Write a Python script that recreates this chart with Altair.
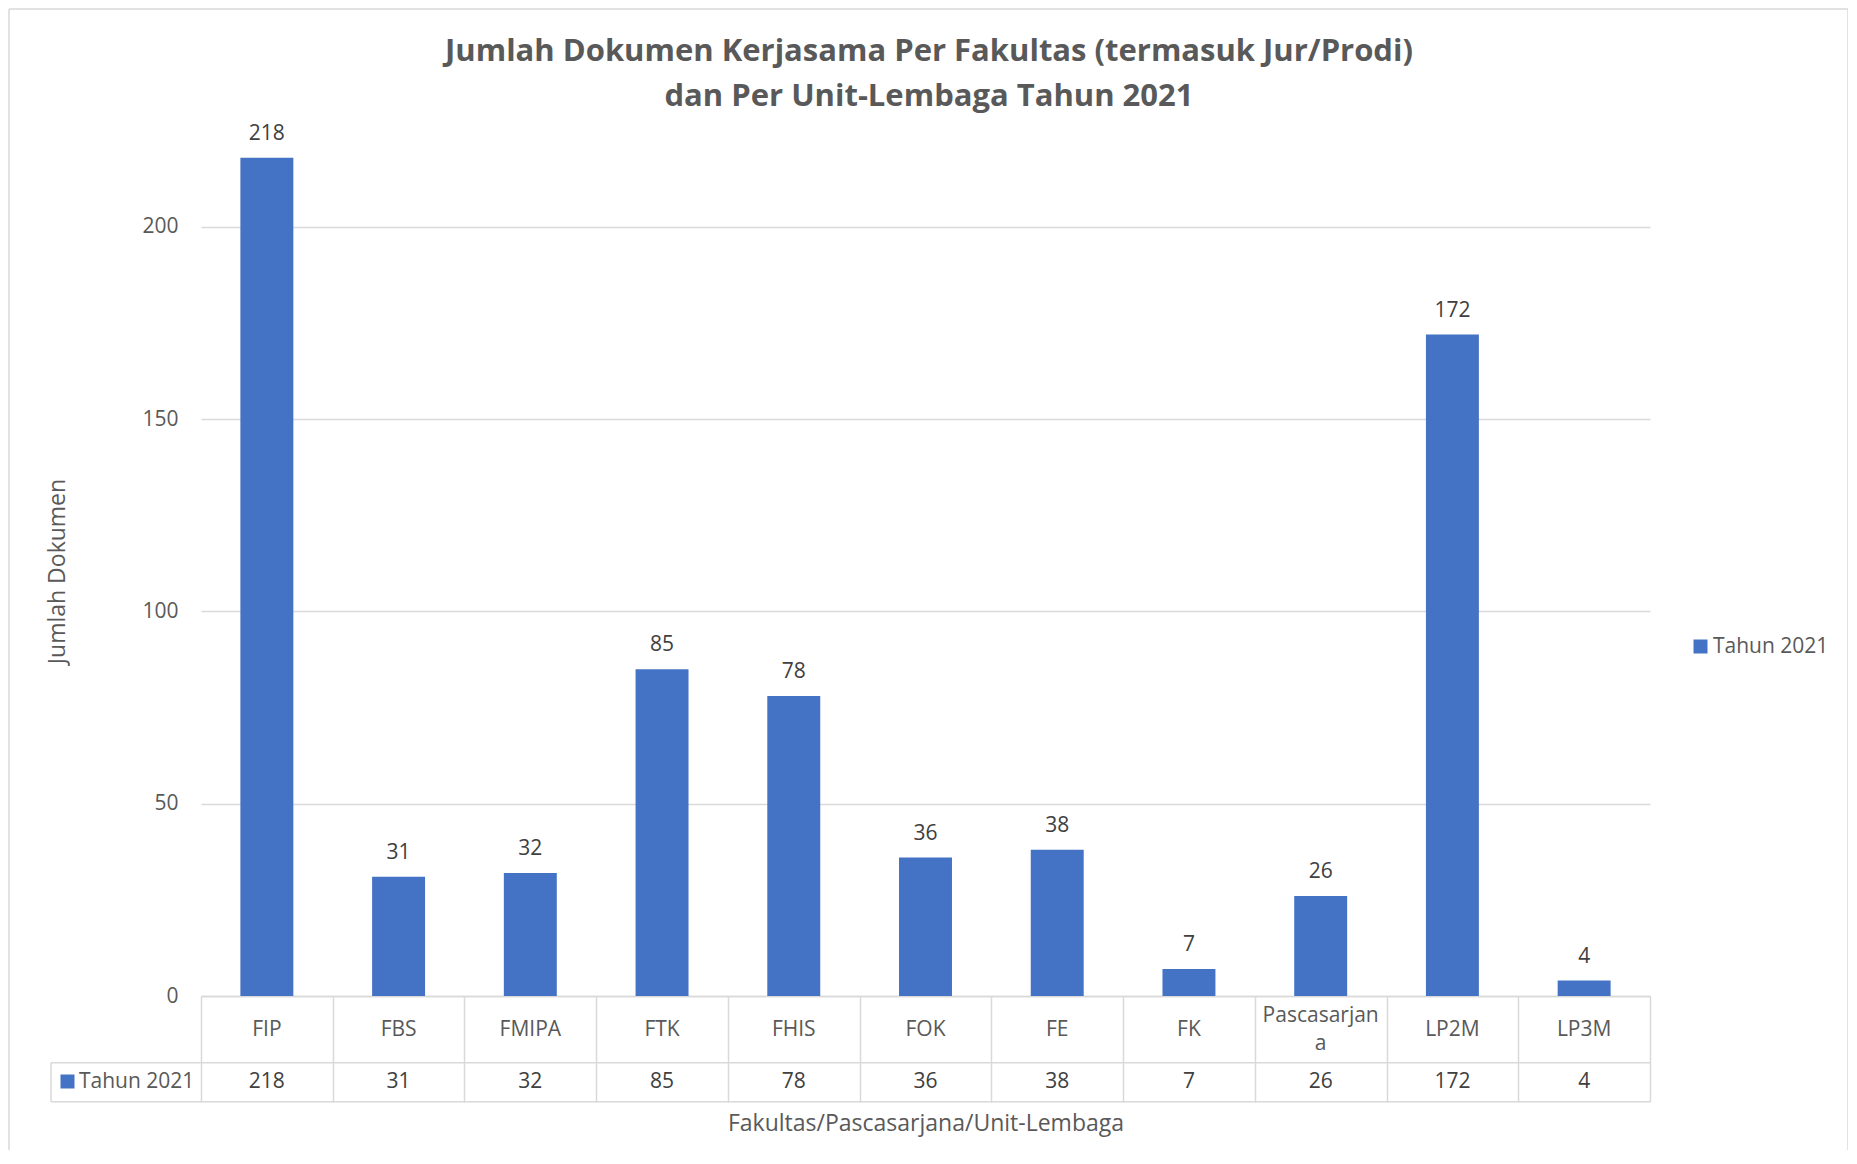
import altair as alt
import pandas as pd

categories = ["FIP", "FBS", "FMIPA", "FTK", "FHIS", "FOK", "FE", "FK", "Pascasarjana", "LP2M", "LP3M"]
header_labels = ["FIP", "FBS", "FMIPA", "FTK", "FHIS", "FOK", "FE", "FK", "Pascasarjan\na", "LP2M", "LP3M"]
values = [218, 31, 32, 85, 78, 36, 38, 7, 26, 172, 4]
series_name = "Tahun 2021"
title_text = "Jumlah Dokumen Kerjasama Per Fakultas (termasuk Jur/Prodi)\ndan Per Unit-Lembaga Tahun 2021"
x_title = "Fakultas/Pascasarjana/Unit-Lembaga"
y_title = "Jumlah Dokumen"
y_ticks = [0, 50, 100, 150, 200]

FONT = "Open Sans"
BAR = "#4472C4"
GRID = "#D9D9D9"
TXT = "#595959"
DARK = "#404040"

W, H = 1449, 846

df = pd.DataFrame({"cat": categories, "label": header_labels, "value": values, "series": series_name})
one = pd.DataFrame({"series": [series_name], "title": [title_text]})

xenc = alt.X(
    "cat:N", sort=categories,
    scale=alt.Scale(paddingInner=0, paddingOuter=0),
    axis=alt.Axis(
        title=x_title, titleFont=FONT, titleFontSize=23, titleFontWeight="normal", titleColor=TXT,
        titleY=127, titleBaseline="middle",
        labels=False, domain=True, domainColor=GRID, domainWidth=1.5,
        ticks=True, tickBand="extent", tickSize=106, tickColor=GRID, tickWidth=1.5,
        grid=False,
    ),
)
yenc = alt.Y(
    "value:Q",
    scale=alt.Scale(domain=[0, 220], nice=False),
    axis=alt.Axis(
        values=y_ticks, title=y_title, titleFont=FONT, titleFontSize=23, titleFontWeight="normal",
        titleColor=TXT, titleX=-144, titleY=421, titleBaseline="middle", titleAngle=270,
        labelFont=FONT, labelFontSize=21, labelColor=TXT, labelPadding=23,
        domain=False, ticks=False, grid=True, gridColor=GRID, gridWidth=1.5,
    ),
)

base = alt.Chart(df)

# chart frame: top, left and right edges (bottom runs off the page in the reference)
frame_top = alt.Chart(one).mark_rule(color=GRID, strokeWidth=1.5).encode(
    x=alt.value(-192), x2=alt.value(1647), y=alt.value(-141)
)
frame_left = alt.Chart(one).mark_rule(color=GRID, strokeWidth=1.5).encode(
    x=alt.value(-192), y=alt.value(-141), y2=alt.value(1040)
)
frame_right = alt.Chart(one).mark_rule(color=GRID, strokeWidth=1.5).encode(
    x=alt.value(1647), y=alt.value(-141), y2=alt.value(1040)
)

title = alt.Chart(one).mark_text(
    font=FONT, fontSize=31, fontWeight="bold", color=TXT, align="center", baseline="middle",
    lineBreak="\n", lineHeight=45,
).encode(x=alt.value(728), y=alt.value(-98), text="title:N")

bars = base.mark_bar(width={"band": 0.402}).encode(
    x=xenc, y=yenc,
    color=alt.Color("series:N", scale=alt.Scale(range=[BAR]), legend=alt.Legend(
        title=None, orient="none", legendX=1489, legendY=486, padding=0,
        symbolType="square", symbolSize=196, symbolStrokeWidth=0, labelOffset=2,
        labelFont=FONT, labelFontSize=21, labelColor=TXT,
    )),
)

bar_labels = base.mark_text(font=FONT, fontSize=21, color=DARK, baseline="alphabetic", dy=-18).encode(
    x=alt.X("cat:N", sort=categories), y="value:Q", text="value:Q"
)

header_single = base.transform_filter("indexof(datum.label, '\\n') < 0").mark_text(
    font=FONT, fontSize=21, color=TXT, baseline="middle"
).encode(x=alt.X("cat:N", sort=categories), y=alt.value(880), text="label:N")

header_multi = base.transform_filter("indexof(datum.label, '\\n') >= 0").mark_text(
    font=FONT, fontSize=21, color=TXT, baseline="middle", lineBreak="\n", lineHeight=28, dy=-14
).encode(x=alt.X("cat:N", sort=categories), y=alt.value(880), text="label:N")

row_vals = base.mark_text(font=FONT, fontSize=21, color=DARK, baseline="middle").encode(
    x=alt.X("cat:N", sort=categories), y=alt.value(932), text="value:Q"
)

hline1 = alt.Chart(one).mark_rule(color=GRID, strokeWidth=1.5).encode(
    x=alt.value(-150), x2=alt.value(W), y=alt.value(912.7)
)
hline2 = alt.Chart(one).mark_rule(color=GRID, strokeWidth=1.5).encode(
    x=alt.value(-150), x2=alt.value(W), y=alt.value(951.7)
)
vline = alt.Chart(one).mark_rule(color=GRID, strokeWidth=1.5).encode(
    x=alt.value(-150), y=alt.value(912.7), y2=alt.value(951.7)
)
key = alt.Chart(one).mark_square(size=196, color=BAR, opacity=1).encode(
    x=alt.value(-133.5), y=alt.value(931.5)
)
key_text = alt.Chart(one).mark_text(font=FONT, fontSize=21, color=TXT, align="left", baseline="middle").encode(
    x=alt.value(-122), y=alt.value(932), text="series:N"
)

chart = alt.layer(
    frame_top, frame_left, frame_right, title, bars, bar_labels, header_single, header_multi, row_vals,
    hline1, hline2, vline, key, key_text
).properties(
    width=W, height=H,
    autosize=alt.AutoSizeParams(type="none"),
    padding={"left": 193, "top": 142, "right": 198, "bottom": 154},
    background="white",
).configure_view(stroke=None)

chart.save("out.html", embed_options={"renderer": "svg", "actions": False})
